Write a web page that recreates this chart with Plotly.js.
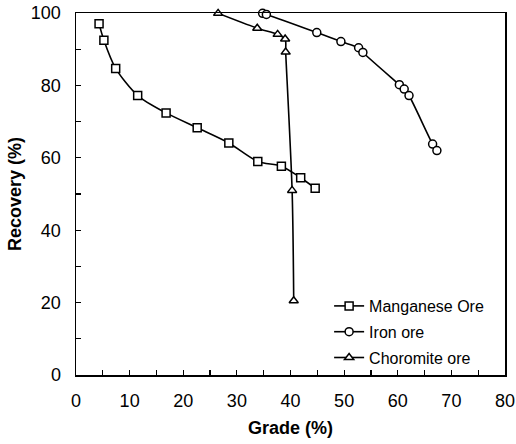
<!DOCTYPE html>
<html>
<head>
<meta charset="utf-8">
<script src="https://cdn.plot.ly/plotly-3.0.1.min.js"></script>
<style>html,body{margin:0;padding:0;background:#fff;}#chart{width:516px;height:444px;}</style>
</head>
<body>
<div id="chart"></div>
<script>
// Manganese ore
const mnGrade    = [4.3, 5.2, 7.4, 11.5, 16.8, 22.6, 28.5, 33.9, 38.3, 41.9, 44.6];
const mnRecovery = [97.0, 92.5, 84.7, 77.2, 72.4, 68.3, 64.1, 59.0, 57.7, 54.5, 51.6];
// Iron ore
const feGrade    = [34.8, 35.5, 44.9, 49.4, 52.7, 53.5, 60.3, 61.2, 62.1, 66.5, 67.3];
const feRecovery = [99.9, 99.6, 94.6, 92.1, 90.4, 89.1, 80.2, 79.0, 77.2, 63.8, 62.0];
// Chromite ore
const crGrade    = [26.5, 33.8, 37.6, 39.0, 39.1, 40.3, 40.6];
const crRecovery = [99.9, 95.8, 94.1, 92.8, 89.2, 51.0, 20.5];

const seriesNames = ["Manganese Ore", "Iron ore", "Choromite ore"];
const xTitle = "Grade (%)";
const yTitle = "Recovery (%)";

function series(x, y, name, symbol, grp) {
  return {
    x: x, y: y, name: name, type: "scatter", mode: "lines+markers",
    legendgroup: grp, cliponaxis: false,
    line: {color: "#000", width: 1.6, shape: "spline", smoothing: 0.8},
    marker: {symbol: symbol, size: 8, color: "#fff", line: {color: "#000", width: 1.5}}
  };
}

const data = [
  series(mnGrade, mnRecovery, seriesNames[0], "square", "g1"),
  series(feGrade, feRecovery, seriesNames[1], "circle", "g2"),
  series(crGrade, crRecovery, seriesNames[2], "triangle-up", "g3")
];

const axisBase = {
  showgrid: false, zeroline: false, showline: true, linecolor: "#000", linewidth: 1.5,
  mirror: true, ticks: "inside", ticklen: 5, tickwidth: 1.2, tickcolor: "#000",
  tickfont: {family: "Liberation Sans, Arial, sans-serif", size: 18, color: "#000"}
};

const layout = {
  width: 516, height: 444,
  margin: {l: 76, r: 11, t: 13, b: 69},
  paper_bgcolor: "#fff", plot_bgcolor: "#fff",
  showlegend: true,
  legend: {
    x: 0.59, y: 0.0, xanchor: "left", yanchor: "bottom",
    bgcolor: "rgba(0,0,0,0)", tracegroupgap: 2,
    font: {family: "Liberation Sans, Arial, sans-serif", size: 16, color: "#000"}
  },
  xaxis: Object.assign({}, axisBase, {
    range: [0, 80], dtick: 10, tick0: 0, ticklabelstandoff: 9,
    minor: {dtick: 5, ticks: "inside", ticklen: 5, tickwidth: 1.2, tickcolor: "#000", showgrid: false},
    title: {text: xTitle, standoff: 11, font: {family: "Liberation Sans, Arial, sans-serif", size: 18, color: "#000", weight: "bold"}}
  }),
  yaxis: Object.assign({}, axisBase, {
    range: [0, 100], dtick: 20, tick0: 0, ticklabelstandoff: 10,
    minor: {dtick: 10, ticks: "inside", ticklen: 5, tickwidth: 1.2, tickcolor: "#000", showgrid: false},
    title: {text: yTitle, standoff: 4, font: {family: "Liberation Sans, Arial, sans-serif", size: 18, color: "#000", weight: "bold"}}
  })
};

Plotly.newPlot("chart", data, layout, {staticPlot: true, displayModeBar: false});
</script>
</body>
</html>
